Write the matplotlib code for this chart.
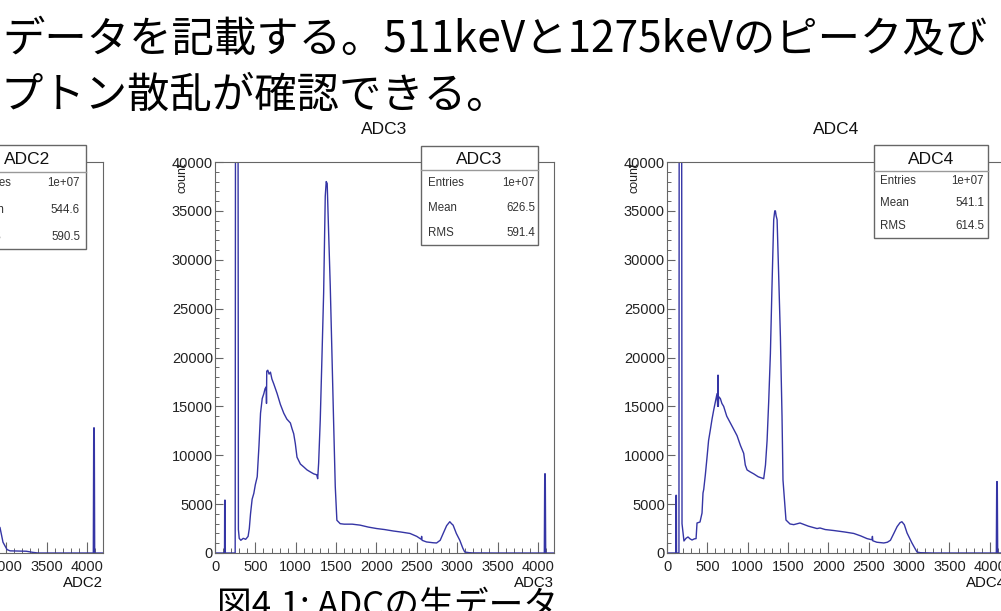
import matplotlib
matplotlib.use("Agg")
import matplotlib.pyplot as plt
from matplotlib.patches import Rectangle
from matplotlib.lines import Line2D
from matplotlib.transforms import Affine2D

W, H = 1001, 611

# ADC spectra, (channel, counts)
adc2_ch = [2850, 2924, 2961, 3011, 3048, 3150, 3250, 3333, 3400, 4080, 4085, 4092, 4097, 4200]
adc2_cnt = [3300, 2600, 1100, 350, 220, 200, 180, 60, 0, 0, 12800, 12800, 0, 0]

adc3_ch = [0, 110, 118, 120, 126, 128, 250, 255, 284, 290, 300, 320, 350, 380, 410, 425,
           440, 460, 481, 500, 523, 545, 564, 585, 605, 620, 635, 638, 641, 654, 670, 687,
           705, 728, 770, 810, 852, 890, 934, 955, 975, 995, 1016, 1058, 1100, 1140, 1180,
           1222, 1260, 1272, 1284, 1304, 1325, 1346, 1366, 1378, 1390, 1407, 1428, 1450,
           1469, 1490, 1510, 1551, 1600, 1700, 1798, 1900, 2004, 2100, 2210, 2300, 2416,
           2500, 2555, 2560, 2565, 2621, 2700, 2745, 2790, 2827, 2870, 2909, 2930, 2950,
           2990, 3033, 3070, 3094, 3150, 3197, 3500, 4080, 4085, 4092, 4097, 4200]
adc3_cnt = [0, 0, 0, 5400, 5400, 0, 0, 60000, 60000, 2400, 1500, 1300, 1500, 1400, 1700, 2500,
            4000, 5500, 6100, 7000, 7800, 11000, 14300, 15800, 16300, 16800, 17000, 15300,
            18600, 18700, 18300, 18500, 17800, 17300, 16300, 15200, 14300, 13700, 13300,
            12700, 12200, 11200, 9800, 9100, 8800, 8500, 8300, 8100, 8000, 7600, 9200, 13600,
            20000, 26600, 36500, 38000, 37800, 33000, 27300, 20000, 13600, 6800, 3350, 3000,
            2950, 2950, 2850, 2650, 2500, 2400, 2250, 2150, 2000, 1700, 1400, 1700, 1300,
            1130, 1050, 1025, 1300, 2000, 2800, 3200, 3000, 2850, 2000, 1300, 500, 100, 30,
            10, 0, 0, 8100, 8100, 0, 0]

adc4_ch = [0, 105, 109, 111, 116, 118, 148, 152, 180, 186, 210, 235, 260, 285, 310, 340,
           360, 372, 409, 434, 446, 455, 475, 496, 515, 537, 558, 578, 600, 620, 628, 632,
           636, 640, 661, 680, 702, 740, 785, 830, 868, 910, 950, 970, 992, 1030, 1074,
           1130, 1198, 1220, 1240, 1260, 1281, 1300, 1322, 1335, 1343, 1352, 1364, 1385,
           1405, 1425, 1437, 1474, 1524, 1570, 1648, 1750, 1859, 1895, 1960, 2066, 2200,
           2314, 2400, 2479, 2540, 2545, 2550, 2600, 2686, 2730, 2768, 2810, 2851, 2887,
           2910, 2940, 2974, 3035, 3097, 3140, 3300, 4080, 4085, 4092, 4097, 4200]
adc4_cnt = [0, 0, 0, 5900, 5900, 0, 0, 60000, 60000, 3000, 1230, 1500, 1640, 1450, 1330, 1450,
            1470, 3070, 3170, 4090, 6140, 6500, 8000, 9800, 11500, 12600, 13700, 14600,
            15500, 16300, 15000, 18200, 15000, 16000, 15800, 15300, 15000, 14000, 13300,
            12600, 12000, 11000, 10200, 9000, 8500, 8300, 8100, 7800, 7600, 9000, 11500,
            15500, 20400, 27000, 34100, 35000, 35000, 34500, 34100, 28000, 22100, 14000,
            7470, 3376, 2970, 2900, 3070, 2750, 2500, 2560, 2400, 2300, 2150, 2000, 1750,
            1470, 1350, 1700, 1250, 1100, 1025, 1100, 1300, 2000, 2700, 3100, 3200, 2900,
            2050, 1020, 100, 30, 0, 0, 7300, 7300, 0, 0]

names = ["ADC2", "ADC3", "ADC4"]
entries = ["1e+07", "1e+07", "1e+07"]
means = ["544.6", "626.5", "541.1"]
rmss = ["590.5", "591.4", "614.5"]

title_lines = ["データを記載する。511keVと1275keVのピーク及び", "プトン散乱が確認できる。"]
caption = "図4.1: ADCの生データ"

LINE = "#3535a5"
FRAME = "#666666"
FONT = "Liberation Sans"
JP = ["Noto Sans CJK JP", "DejaVu Sans"]

fig = plt.figure(figsize=(W / 100, H / 100), dpi=100)
# pixel coordinates, origin top-left
px = Affine2D().scale(1 / W, -1 / H).translate(0, 1) + fig.transFigure


def panel(left, ch, cnt, name):
    ax = fig.add_axes([left / W, 1 - 553 / H, 339 / W, 391 / H])
    ax.plot(ch, cnt, color=LINE, lw=1.0)
    ax.set_xlim(0, 4200)
    ax.set_ylim(0, 40000)
    ax.set_xticks(range(0, 4001, 500))
    ax.set_xticks(range(0, 4101, 100), minor=True)
    ax.set_yticks(range(0, 40001, 5000))
    ax.set_yticks(range(0, 40001, 1000), minor=True)
    ax.tick_params(axis="x", which="major", direction="in", length=8, width=0.8,
                   color=FRAME, labelsize=10.5, pad=5, labelcolor="#222222")
    ax.tick_params(axis="x", which="minor", direction="in", length=3.6, width=0.7, color=FRAME)
    ax.tick_params(axis="y", which="major", direction="in", length=5.8, width=0.8,
                   color=FRAME, labelsize=10.5, pad=1.5, labelcolor="#222222")
    ax.tick_params(axis="y", which="minor", direction="in", length=2.9, width=0.7, color=FRAME)
    for lab in ax.get_xticklabels() + ax.get_yticklabels():
        lab.set_fontfamily(FONT)
    for s in ax.spines.values():
        s.set_color(FRAME)
        s.set_linewidth(0.8)
    ax.text(0.5, (553 - 130) / 391, name, transform=ax.transAxes, ha="center", va="center",
            fontsize=12.5, family=FONT, color="#111111")
    ax.text(1.0, -30 / 391, name, transform=ax.transAxes, ha="right", va="center",
            fontsize=10.8, family=FONT, color="#111111")
    ax.text(-32 / 339, 1.0, "count", transform=ax.transAxes, ha="center", va="top",
            rotation=90, fontsize=9, family=FONT, color="#222222")
    return ax


def stats_box(l, t, r, b, div, rows, lx, vx, i):
    fig.add_artist(Rectangle((l, t), r - l, b - t, transform=px, facecolor="white",
                             edgecolor=FRAME, lw=1.0, zorder=5))
    fig.add_artist(Line2D([l, r], [div, div], transform=px, color="#999999", lw=1.0, zorder=6))
    fig.text((l + r) / 2, (t + div) / 2 + 1, names[i], transform=px, ha="center", va="center",
             fontsize=12.5, family=FONT, color="#111111", zorder=7)
    for y, lab, val in zip(rows, ["Entries", "Mean", "RMS"], [entries[i], means[i], rmss[i]]):
        fig.text(lx, y, lab, transform=px, ha="left", va="center", fontsize=8.3,
                 family=FONT, color="#333333", zorder=7)
        fig.text(vx, y, val, transform=px, ha="right", va="center", fontsize=8.3,
                 family=FONT, color="#333333", zorder=7)


panel(-236, adc2_ch, adc2_cnt, names[0])
panel(215, adc3_ch, adc3_cnt, names[1])
panel(667, adc4_ch, adc4_cnt, names[2])

stats_box(-31, 145, 86, 249, 172, [183, 210, 237], -25, 80, 0)
stats_box(421, 146, 538, 245, 170, [183, 208, 233], 428, 535, 1)
stats_box(874, 145, 988, 238, 171, [181, 203, 226], 880, 984, 2)

fig.text(2, 52, title_lines[0], transform=px, ha="left", va="baseline", fontsize=30.5,
         family=JP, color="black", zorder=8)
fig.text(0, 108, title_lines[1], transform=px, ha="left", va="baseline", fontsize=30.5,
         family=JP, color="black", zorder=8)
fig.text(217, 616, caption, transform=px, ha="left", va="baseline", fontsize=25,
         family=JP, color="black", zorder=8)

fig.savefig("out.png", dpi=100)
